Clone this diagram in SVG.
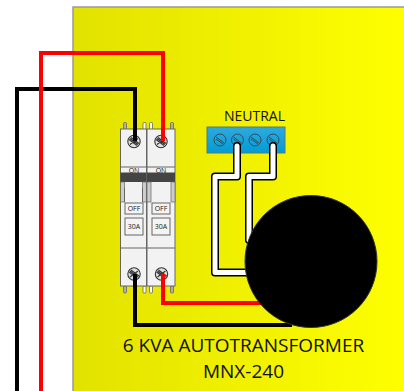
<svg xmlns="http://www.w3.org/2000/svg" width="404" height="391" viewBox="0 0 404 391">
<style>
.lbl{font-family:"Open Sans","Liberation Sans",sans-serif;fill:#111;text-anchor:middle}
.wire{fill:none;stroke-width:4;stroke-linejoin:miter}
.body{fill:#f2f2f2;stroke:#666;stroke-width:1}
.pin{fill:#b0b0a0;stroke:#666;stroke-width:.8}
.pinw{fill:#fff;stroke:#666;stroke-width:.8}
.box{fill:#f4f4f4;stroke:#666;stroke-width:1}
.sw{font-family:"Open Sans","Liberation Sans",sans-serif;font-size:7px;fill:#222;text-anchor:middle}
.scr{fill:#e0e0e0;stroke:#333;stroke-width:1.1}
.scrb{fill:none;stroke:#333;stroke-width:1.1}
</style>
<defs>
<linearGradient id="bg" x1="0" x2="1" y1="0" y2="0"><stop offset="0" stop-color="#e2e200"/><stop offset="1" stop-color="#ffff00"/></linearGradient>
<linearGradient id="tb" x1="0" x2="0" y1="0" y2="1"><stop offset="0" stop-color="#2fa9e0"/><stop offset="1" stop-color="#009cd6"/></linearGradient>
<g id="screw"><circle r="6.200" class="scr"/><path d="M-4,-3L4,3M-3,-4L5,2M-5,-2L3,4M-4,3L4,-3" class="scrb"/></g>
<g id="tscrew"><circle r="6" fill="none" stroke="#3a4a50" stroke-width="1"/><path d="M-4,-3L4,3M-4,-1L3,4" fill="none" stroke="#3a4a50" stroke-width="1"/></g>
</defs>
<rect width="404" height="391" fill="#fff"/>
<g id="panel"><rect x="73" y="7" width="334" height="390" fill="url(#bg)" stroke="#999" stroke-width="1.5"/></g>
<g id="breaker-1">
<rect x="123.500" y="122.500" width="3" height="7" rx="1" class="pin"/><rect x="143" y="122.500" width="3" height="7" rx="1" class="pinw"/>
<rect x="123.500" y="286" width="3" height="7" rx="1" class="pin"/><rect x="143" y="286" width="3" height="7" rx="1" class="pinw"/>
<rect x="120.500" y="129" width="26" height="157" class="body"/>
<path d="M120.500,167H146.500M120.500,248H146.500" stroke="#666" fill="none"/>
<text x="134" y="172.500" class="sw">ON</text>
<rect x="120.500" y="172.500" width="26" height="9.500" fill="#444"/>
<rect x="120.500" y="182" width="4" height="20" fill="#ccc" stroke="#666" stroke-width=".7"/><rect x="142.500" y="182" width="4" height="20" fill="#ccc" stroke="#666" stroke-width=".7"/>
<path d="M124.500,202V188M142.500,188V202" stroke="#666" fill="none"/>
<rect x="125" y="203" width="18" height="11" class="box"/><text x="134" y="211" class="sw">OFF</text>
<rect x="125" y="218" width="18" height="17" class="box"/><text x="134" y="229" class="sw">30A</text>
<use href="#screw" x="134" y="274"/>
</g>
<g id="breaker-2">
<rect x="149.500" y="122.500" width="3" height="7" rx="1" class="pinw"/><rect x="170.500" y="122.500" width="3" height="7" rx="1" class="pin"/>
<rect x="149.500" y="286" width="3" height="7" rx="1" class="pinw"/><rect x="170.500" y="286" width="3" height="7" rx="1" class="pin"/>
<rect x="147" y="129" width="28" height="157" class="body"/>
<path d="M147,167H175M147,248H175" stroke="#666" fill="none"/>
<text x="161" y="172.500" class="sw">ON</text>
<rect x="147" y="172.500" width="28" height="9.500" fill="#444"/>
<rect x="147" y="182" width="4" height="20" fill="#ccc" stroke="#666" stroke-width=".7"/><rect x="171" y="182" width="4" height="20" fill="#ccc" stroke="#666" stroke-width=".7"/>
<rect x="152" y="203" width="18" height="11" class="box"/><text x="161" y="211" class="sw">OFF</text>
<rect x="152" y="218" width="18" height="17" class="box"/><text x="161" y="229" class="sw">30A</text>
<use href="#screw" x="161.500" y="274"/>
</g>
<use href="#screw" x="134" y="141.500"/><use href="#screw" x="161" y="141.500"/>
<g id="neutral-block">
<rect x="207" y="127" width="78" height="26" fill="url(#tb)" stroke="#5a7a70" stroke-width="1"/>
<use href="#tscrew" x="220" y="140"/><use href="#tscrew" x="237.500" y="140"/><use href="#tscrew" x="255" y="140"/><use href="#tscrew" x="273" y="140"/>
<text x="254.500" y="121" class="lbl" font-size="14">NEUTRAL</text>
</g>
<g id="connectors">
<path class="wire" stroke="#000" d="M17,391V89H135V141"/>
<path class="wire" stroke="#f00" d="M41,391V53H163V141"/>
<path class="wire" stroke="#f00" d="M163,274V303H262"/>
<path class="wire" stroke="#000" d="M135,274V325H292"/>
<g fill="none" stroke-linecap="round" stroke-linejoin="round">
<path stroke="#000" stroke-width="8" d="M237,146V176.500H215V272.500H248"/>
<path stroke="#fff" stroke-width="5" d="M237,146V176.500H215V272.500H248"/>
<path stroke="#000" stroke-width="8" d="M273,146V176.500H249V240"/>
<path stroke="#fff" stroke-width="5" d="M273,146V176.500H249V240"/>
</g>
</g>
<g id="autotransformer">
<circle cx="311" cy="261.500" r="66" fill="#000" stroke="#333" stroke-width="1"/>
<text x="243.500" y="351.500" class="lbl" font-size="19">6 KVA AUTOTRANSFORMER</text>
<text x="243.500" y="378" class="lbl" font-size="19">MNX-240</text>
</g>
</svg>
